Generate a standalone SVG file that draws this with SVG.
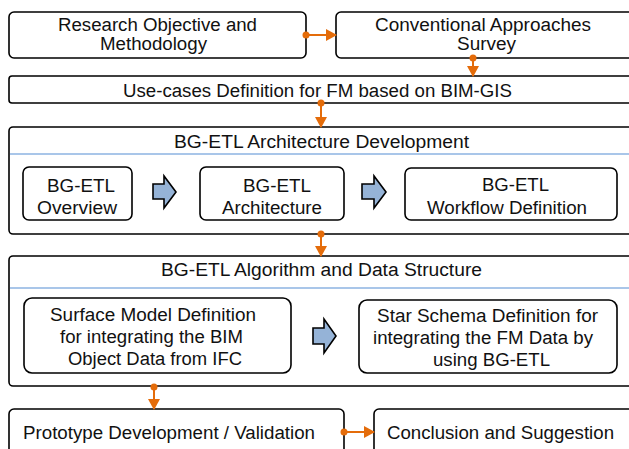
<svg xmlns="http://www.w3.org/2000/svg" width="629" height="449" viewBox="0 0 629 449">
<defs>
<style>
.box{fill:#fff;stroke:#000;stroke-width:1.6}
.t{font-family:"Liberation Sans",Arial,sans-serif;font-size:18px;fill:#111;text-anchor:middle}
.sep{stroke:#8DB3E2;stroke-width:1.3}
.con{stroke:#E46C0A;stroke-width:2;fill:none}
.dot{fill:#E46C0A}
.ba{fill:#95B3D7;stroke:#000;stroke-width:1.6;stroke-linejoin:miter}
</style>
<marker id="ah" markerWidth="12" markerHeight="12" refX="10" refY="6" orient="auto" markerUnits="userSpaceOnUse">
<path d="M0,0 L11,6 L0,12 z" fill="#E46C0A"/>
</marker>
</defs>
<rect width="629" height="449" fill="#fff"/>

<g id="research">
<rect class="box" x="9" y="12" width="297" height="46" rx="5"/>
<text class="t" x="157.5" y="31" textLength="199" lengthAdjust="spacingAndGlyphs">Research Objective and</text>
<text class="t" x="153.5" y="50" textLength="107" lengthAdjust="spacingAndGlyphs">Methodology</text>
</g>
<g id="survey">
<rect class="box" x="336" y="12" width="310" height="46" rx="5"/>
<text class="t" x="483" y="31" textLength="216" lengthAdjust="spacingAndGlyphs">Conventional Approaches</text>
<text class="t" x="486.5" y="50" textLength="59" lengthAdjust="spacingAndGlyphs">Survey</text>
</g>
<g id="usecases">
<rect class="box" x="9" y="76" width="640" height="27" rx="3"/>
<text class="t" x="317.5" y="97" textLength="389" lengthAdjust="spacingAndGlyphs">Use-cases Definition for FM based on BIM-GIS</text>
</g>

<g id="arch">
<rect class="box" x="9" y="127" width="640" height="107" rx="4"/>
<line class="sep" x1="10" y1="154" x2="629" y2="154"/>
<text class="t" x="321.5" y="148" textLength="295" lengthAdjust="spacingAndGlyphs">BG-ETL Architecture Development</text>
</g>
<g id="overview">
<rect class="box" x="23" y="167" width="109" height="53" rx="6"/>
<text class="t" x="81" y="192" textLength="68" lengthAdjust="spacingAndGlyphs">BG-ETL</text>
<text class="t" x="77" y="214" textLength="80" lengthAdjust="spacingAndGlyphs">Overview</text>
</g>
<g id="architecture">
<rect class="box" x="200" y="167" width="144" height="53" rx="6"/>
<text class="t" x="277" y="192" textLength="68" lengthAdjust="spacingAndGlyphs">BG-ETL</text>
<text class="t" x="272" y="214" textLength="100" lengthAdjust="spacingAndGlyphs">Architecture</text>
</g>
<g id="workflow">
<rect class="box" x="405" y="168" width="212" height="52" rx="6"/>
<text class="t" x="515.5" y="191" textLength="67" lengthAdjust="spacingAndGlyphs">BG-ETL</text>
<text class="t" x="507" y="214" textLength="160" lengthAdjust="spacingAndGlyphs">Workflow Definition</text>
</g>

<g id="algo">
<rect class="box" x="9" y="256" width="640" height="130" rx="4"/>
<line class="sep" x1="10" y1="288" x2="629" y2="288"/>
<text class="t" x="321.5" y="276" textLength="321" lengthAdjust="spacingAndGlyphs">BG-ETL Algorithm and Data Structure</text>
</g>
<g id="surface">
<rect class="box" x="24" y="298" width="267" height="75" rx="8"/>
<text class="t" x="153" y="321" textLength="206" lengthAdjust="spacingAndGlyphs">Surface Model  Definition</text>
<text class="t" x="151.5" y="343" textLength="183" lengthAdjust="spacingAndGlyphs">for integrating the BIM</text>
<text class="t" x="155" y="365" textLength="174" lengthAdjust="spacingAndGlyphs">Object Data from IFC</text>
</g>
<g id="star">
<rect class="box" x="359" y="300" width="258" height="73" rx="8"/>
<text class="t" x="487.5" y="322" textLength="221" lengthAdjust="spacingAndGlyphs">Star Schema Definition  for</text>
<text class="t" x="483" y="344" textLength="220" lengthAdjust="spacingAndGlyphs">integrating the FM Data by</text>
<text class="t" x="491.5" y="366" textLength="117" lengthAdjust="spacingAndGlyphs">using BG-ETL</text>
</g>

<g id="prototype">
<rect class="box" x="9" y="409" width="335" height="60" rx="5"/>
<text class="t" x="169" y="439" textLength="292" lengthAdjust="spacingAndGlyphs">Prototype Development / Validation</text>
</g>
<g id="conclusion">
<rect class="box" x="374" y="409" width="275" height="60" rx="5"/>
<text class="t" x="500.5" y="439" textLength="227" lengthAdjust="spacingAndGlyphs">Conclusion and Suggestion</text>
</g>

<g id="blockarrows">
<path class="ba" d="M153,184 H164 V176 L176,192 L164,208 V199 H153 Z"/>
<path class="ba" d="M362,184 H374 V176 L386,192 L374,208 V199 H362 Z"/>
<path class="ba" d="M313,328 H324 V319 L336,336 L324,353 V344 H313 Z"/>
</g>

<g id="connectors">
<line class="con" x1="306" y1="35" x2="336" y2="35" marker-end="url(#ah)"/>
<circle class="dot" cx="306" cy="35" r="3.5"/>
<line class="con" x1="473" y1="58" x2="473" y2="76" marker-end="url(#ah)"/>
<circle class="dot" cx="473" cy="58" r="3.5"/>
<line class="con" x1="321" y1="103" x2="321" y2="127" marker-end="url(#ah)"/>
<circle class="dot" cx="321" cy="103" r="3.5"/>
<line class="con" x1="321" y1="234" x2="321" y2="256" marker-end="url(#ah)"/>
<circle class="dot" cx="321" cy="234" r="3.5"/>
<line class="con" x1="154" y1="387" x2="154" y2="409" marker-end="url(#ah)"/>
<circle class="dot" cx="154" cy="387" r="3.5"/>
<line class="con" x1="344" y1="432" x2="374" y2="432" marker-end="url(#ah)"/>
<circle class="dot" cx="344" cy="432" r="3.5"/>
</g>
</svg>
